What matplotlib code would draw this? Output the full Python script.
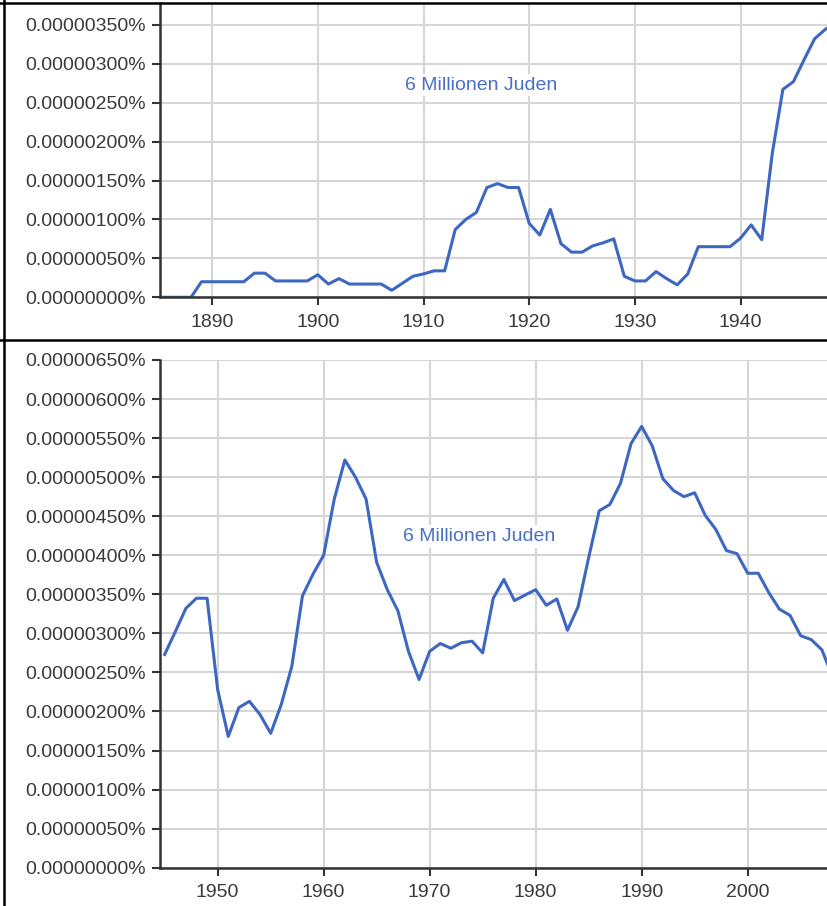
import matplotlib
matplotlib.use("Agg")
import matplotlib.pyplot as plt
from matplotlib.lines import Line2D
from matplotlib.ticker import FuncFormatter, MultipleLocator

# values in units of 0.000001 %
years_early = list(range(1885, 1950))
share_early = [
    0.0, 0.0, 0.0, 0.0, 0.20, 0.20, 0.20, 0.20, 0.20, 0.31,   # 1885-1894
    0.31, 0.21, 0.21, 0.21, 0.21, 0.29, 0.17, 0.24, 0.17, 0.17,  # 1895-1904
    0.17, 0.17, 0.09, 0.18, 0.27, 0.30, 0.34, 0.34, 0.87, 1.00,  # 1905-1914
    1.09, 1.41, 1.46, 1.41, 1.41, 0.95, 0.80, 1.13, 0.69, 0.58,  # 1915-1924
    0.58, 0.66, 0.70, 0.75, 0.27, 0.21, 0.21, 0.33, 0.24, 0.16,  # 1925-1934
    0.30, 0.65, 0.65, 0.65, 0.65, 0.76, 0.93, 0.74, 1.85, 2.67,  # 1935-1944
    2.77, 3.05, 3.32, 3.44, 3.52,                                # 1945-1949
]

years_late = list(range(1945, 2009))
share_late = [
    2.73, 3.02, 3.32, 3.45, 3.45, 2.28, 1.68, 2.05, 2.13, 1.96,  # 1945-1954
    1.72, 2.09, 2.58, 3.48, 3.76, 4.00, 4.72, 5.22, 5.00, 4.72,  # 1955-1964
    3.91, 3.56, 3.29, 2.77, 2.41, 2.77, 2.87, 2.81, 2.88, 2.90,  # 1965-1974
    2.75, 3.45, 3.69, 3.42, 3.49, 3.56, 3.36, 3.44, 3.04, 3.34,  # 1975-1984
    3.97, 4.57, 4.65, 4.92, 5.43, 5.65, 5.40, 4.98, 4.83, 4.75,  # 1985-1994
    4.80, 4.51, 4.33, 4.06, 4.02, 3.77, 3.77, 3.52, 3.31, 3.23,  # 1995-2004
    2.97, 2.92, 2.79, 2.45,                                      # 2005-2008
]

label = "6 Millionen Juden"

LINE = "#3d67c0"
TEXT_BLUE = "#4a6fc6"
GRID = "#d6d6d6"
TICK_TXT = "#3a3a3a"

plt.rcParams["font.family"] = ["Liberation Sans", "DejaVu Sans"]

W, H = 828, 906
fig = plt.figure(figsize=(W / 100, H / 100), dpi=100)


def fmt(v, pos):
    return f"{v * 1e-6:.8f}%"


def style_axes(ax, xlim, ylim, xticks):
    ax.set_xlim(*xlim)
    ax.set_ylim(*ylim)
    ax.set_xticks(xticks)
    ax.yaxis.set_major_locator(MultipleLocator(0.5))
    ax.yaxis.set_major_formatter(FuncFormatter(fmt))
    ax.grid(True, color=GRID, linewidth=1.5)
    ax.set_axisbelow(True)
    for side in ("top", "right"):
        ax.spines[side].set_visible(False)
    for side in ("left", "bottom"):
        ax.spines[side].set_color("#333333")
        ax.spines[side].set_linewidth(1.8)
    ax.tick_params(axis="both", direction="out", length=6, width=1.5,
                   color="#333333", labelsize=14, labelcolor=TICK_TXT)
    ax.tick_params(axis="y", pad=4)
    ax.tick_params(axis="x", pad=6)


def px_box(left, top, right, bottom):
    return [left / W, 1 - bottom / H, (right - left) / W, (bottom - top) / H]


# top panel: 1885-1948
ax1 = fig.add_axes(px_box(160, 3, 828, 297.3))
ax1.plot(years_early, share_early, color=LINE, linewidth=2.2, clip_on=True)
style_axes(ax1, (1885.07, 1948.27), (0, 3.78), range(1890, 1950, 10))
ax1.text(0.367, 0.721, label, transform=ax1.transAxes, ha="left", va="center",
         fontsize=14, color=TEXT_BLUE,
         bbox=dict(facecolor="white", edgecolor="none", pad=2))

# bottom panel: 1945-2008
ax2 = fig.add_axes(px_box(160, 360, 828, 867.7))
ax2.plot(years_late, share_late, color=LINE, linewidth=2.2, clip_on=True)
style_axes(ax2, (1944.56, 2007.58), (0, 6.5), range(1950, 2010, 10))
ax2.text(0.364, 0.652, label, transform=ax2.transAxes, ha="left", va="center",
         fontsize=14, color=TEXT_BLUE,
         bbox=dict(facecolor="white", edgecolor="none", pad=2))

# black frame lines around the two screenshots
for xs, ys in [
    ((0, W), (H - 2.7, H - 2.7)),
    ((0, W), (H - 339.8, H - 339.8)),
    ((3.7, 3.7), (0, H)),
]:
    fig.add_artist(Line2D([x / W for x in xs], [y / H for y in ys],
                          color="black", linewidth=1.8))

fig.savefig("out.png", dpi=100)
